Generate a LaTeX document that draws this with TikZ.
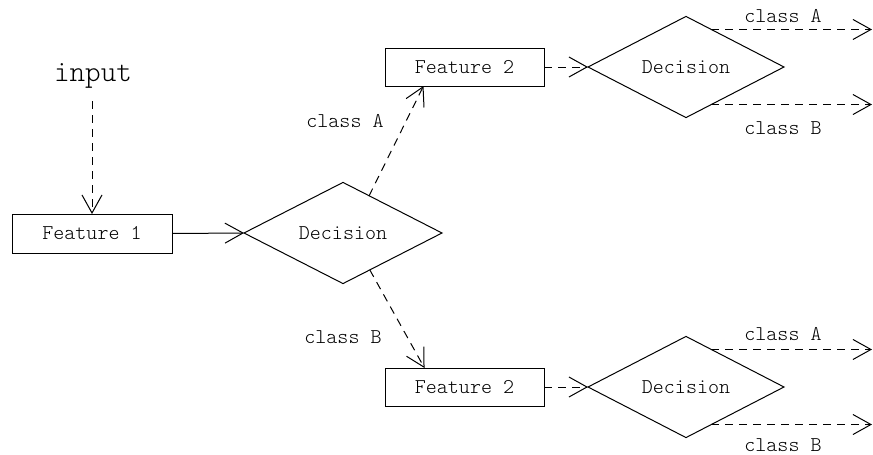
\documentclass[tikz,border=0pt]{standalone}
\usepackage{fontspec}
\setmonofont{lmmonolt10-regular.otf}
\usetikzlibrary{shapes.geometric,arrows.meta}

\tikzset{
  txt/.style={font=\ttfamily\fontsize{21}{25}\selectfont},
  lbl/.style={txt, inner sep=0pt},
  featbox/.style={txt, draw, rectangle, line width=1pt, inner sep=0pt, outer sep=0pt},
  decide/.style={txt, draw, diamond, line width=1pt, inner sep=0pt, outer sep=0pt},
  flow/.style={line width=1pt, -{Straight Barb[length=18pt,width=20pt,line width=1pt]}},
  dflow/.style={flow, dash pattern=on 8pt off 6pt},
}

\begin{document}
\begin{tikzpicture}[x=1pt,y=-1pt]
  \useasboundingbox (0,0) rectangle (873,455);

  % input and first feature stage
  \node[font=\ttfamily\fontsize{29.7}{34}\selectfont, inner sep=0pt, anchor=base] (inp) at (93,81) {input};
  \node[featbox, minimum width=160pt, minimum height=39pt] (f1) at (92,233.5) {Feature 1};
  \node[decide, minimum width=198pt, minimum height=94pt] (d1) at (343,233) {Decision};

  % second feature stage
  \node[featbox, minimum width=159pt, minimum height=38pt] (f2a) at (464.5,67) {Feature 2};
  \node[featbox, minimum width=159pt, minimum height=38pt] (f2b) at (464.5,387) {Feature 2};
  \node[decide, minimum width=196pt, minimum height=98pt] (d2a) at (686,67) {Decision};
  \node[decide, minimum width=196pt, minimum height=98pt] (d2b) at (686,387) {Decision};

  % outputs on the right edge
  \coordinate (outx) at (872,0);

  % connectors
  \draw[dflow, shorten <=13pt] (inp.south -| f1.north) -- (f1.north);
  \draw[flow] (f1.east) -- (d1.west);
  \draw[dflow] (d1.55) -- ([xshift=-41pt]f2a.south);
  \draw[dflow] (d1.-54) -- ([xshift=-40pt]f2b.north);
  \draw[dflow] (f2a.east) -- (d2a.west);
  \draw[dflow] (f2b.east) -- (d2b.west);
  \draw[dflow] (d2a.56) -- (d2a.56 -| outx);
  \draw[dflow] (d2a.-56) -- (d2a.-56 -| outx);
  \draw[dflow] (d2b.56) -- (d2b.56 -| outx);
  \draw[dflow] (d2b.-56) -- (d2b.-56 -| outx);

  % branch labels
  \node[lbl] (la1) at (345,121) {class A};
  \node[lbl] (lb1) at (343,337) {class B};
  \node[lbl] (la2) at (783,16) {class A};
  \node[lbl] (lb2) at (783,128) {class B};
  \node[lbl] (la3) at (783,334) {class A};
  \node[lbl] (lb3) at (783,445) {class B};
\end{tikzpicture}
\end{document}
